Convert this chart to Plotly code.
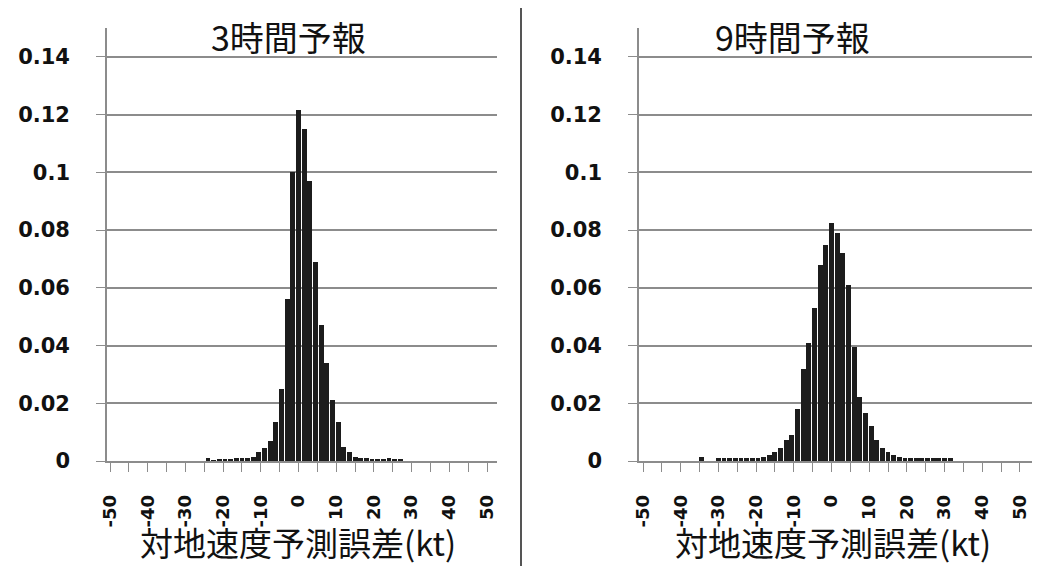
import plotly.graph_objects as go

# ---------------- data ----------------
# bin centres (kt) and relative frequency, 3-hour forecast
kt_3h = [-24, -22.5, -21, -19.5, -18, -16.5, -15, -13.5, -12, -10.5, -9, -7.5, -6, -4.5, -3, -1.5,
         0, 1.5, 3, 4.5, 6, 7.5, 9, 10.5, 12, 13.5, 15, 16.5, 18, 19.5, 21, 22.5, 24, 25.5, 27]
freq_3h = [0.0009, 0.0003, 0.0008, 0.0008, 0.0008, 0.001, 0.001, 0.0012, 0.0015, 0.003, 0.0045, 0.007,
           0.0135, 0.025, 0.056, 0.100,
           0.1216, 0.115, 0.097, 0.069, 0.047, 0.034, 0.021, 0.0135, 0.005, 0.003, 0.0015, 0.001, 0.001,
           0.0008, 0.0008, 0.0008, 0.0012, 0.0008, 0.0006]

# bin centres (kt) and relative frequency, 9-hour forecast
kt_9h = [-34.5, -30, -28.5, -27, -25.5, -24, -22.5, -21, -19.5, -18, -16.5, -15, -13.5, -12, -10.5,
         -9, -7.5, -6, -4.5, -3, -1.5, 0, 1.5, 3, 4.5, 6, 7.5, 9, 10.5, 12, 13.5, 15, 16.5, 18,
         19.5, 21, 22.5, 24, 25.5, 27, 28.5, 30, 31.5]
freq_9h = [0.0015, 0.001, 0.001, 0.001, 0.001, 0.001, 0.001, 0.001, 0.0012, 0.0015, 0.002, 0.003, 0.0045,
           0.0073, 0.009, 0.018, 0.032, 0.041, 0.053, 0.068, 0.075, 0.0825, 0.079, 0.072, 0.061,
           0.0395, 0.022, 0.0166, 0.012, 0.0073, 0.0045, 0.003, 0.002, 0.0015,
           0.001, 0.001, 0.001, 0.001, 0.001, 0.001, 0.001, 0.001, 0.001]

y_tick_vals = [0, 0.02, 0.04, 0.06, 0.08, 0.1, 0.12, 0.14]
y_tick_text = ["0", "0.02", "0.04", "0.06", "0.08", "0.1", "0.12", "0.14"]
x_tick_vals = [-50, -40, -30, -20, -10, 0, 10, 20, 30, 40, 50]
x_tick_text = ["-50", "-40", "-30", "-20", "-10", "0", "10", "20", "30", "40", "50"]
panel_titles = ["3時間予報", "9時間予報"]
x_title = "対地速度予測誤差(kt)"

# ---------------- figure ----------------
W, H = 1043, 566
BAR_W = 1.3
BAR_COLOR = "#1c1c1c"
GRID = "#8c8c8c"

fig = go.Figure()
fig.add_trace(go.Bar(x=kt_3h, y=freq_3h, width=BAR_W, marker=dict(color=BAR_COLOR, line=dict(width=0)),
                     xaxis="x", yaxis="y", showlegend=False))
fig.add_trace(go.Bar(x=kt_9h, y=freq_9h, width=BAR_W, marker=dict(color=BAR_COLOR, line=dict(width=0)),
                     xaxis="x2", yaxis="y2", showlegend=False))

tick_font = dict(family="DejaVu Sans", size=18, color="#111111", weight="bold")
ytick_font = dict(family="DejaVu Sans", size=21, color="#111111", weight="bold")

def xaxis_cfg(domain, rng, anchor):
    return dict(domain=domain, range=rng, anchor=anchor, automargin=False,
                tickmode="array", tickvals=x_tick_vals, ticktext=x_tick_text,
                tickangle=-90, tickfont=tick_font, ticks="outside", ticklen=9,
                tickcolor=GRID, tickwidth=1.3, ticklabelstandoff=16,
                minor=dict(dtick=5, tick0=0, ticks="outside", ticklen=9, tickcolor=GRID, tickwidth=1.3,
                           showgrid=False),
                showline=True, linecolor=GRID, linewidth=1.6, showgrid=False, zeroline=False,
                fixedrange=True)

def yaxis_cfg(anchor):
    return dict(domain=[105 / H, 538 / H], range=[0, 0.15], anchor=anchor, automargin=False,
                tickmode="array", tickvals=y_tick_vals, ticktext=y_tick_text,
                tickfont=ytick_font, ticks="outside", ticklen=9, tickcolor=GRID, tickwidth=1.3,
                ticklabelstandoff=22,
                showline=True, linecolor=GRID, linewidth=1.6,
                showgrid=True, gridcolor=GRID, gridwidth=1.5, zeroline=False, fixedrange=True)

fig.update_layout(
    width=W, height=H, margin=dict(l=0, r=0, t=0, b=0, autoexpand=False),
    paper_bgcolor="white", plot_bgcolor="white", bargap=0,
    xaxis=xaxis_cfg([107 / W, 497 / W], [-50.8, 52.65], "y"),
    yaxis=yaxis_cfg("x"),
    xaxis2=xaxis_cfg([639 / W, 1032 / W], [-51.06, 53.2], "y2"),
    yaxis2=yaxis_cfg("x2"),
)

title_font = dict(family="Noto Sans CJK JP", size=34, color="#111111")
xt_font = dict(family="Noto Sans CJK JP", size=33, color="#111111")
fig.add_annotation(x=288 / W, y=1 - 36 / H, xref="paper", yref="paper", text=panel_titles[0],
                   showarrow=False, font=title_font, xanchor="center", yanchor="middle")
fig.add_annotation(x=792 / W, y=1 - 36 / H, xref="paper", yref="paper", text=panel_titles[1],
                   showarrow=False, font=title_font, xanchor="center", yanchor="middle")
fig.add_annotation(x=298 / W, y=1 - 542 / H, xref="paper", yref="paper", text=x_title,
                   showarrow=False, font=xt_font, xanchor="center", yanchor="middle")
fig.add_annotation(x=833 / W, y=1 - 542 / H, xref="paper", yref="paper", text=x_title,
                   showarrow=False, font=xt_font, xanchor="center", yanchor="middle")

# panel separator
fig.add_shape(type="line", xref="paper", yref="paper", x0=521 / W, x1=521 / W, y0=0, y1=1 - 8 / H,
              line=dict(color="#555555", width=2))

fig.write_html("out.html")
